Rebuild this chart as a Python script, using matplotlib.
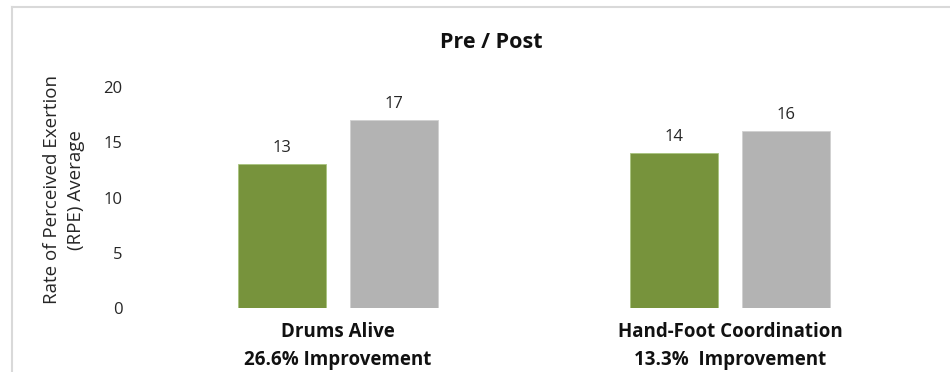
import matplotlib
matplotlib.use("Agg")
import matplotlib.pyplot as plt
import numpy as np
from matplotlib.lines import Line2D

categories = ["Drums Alive\n26.6% Improvement", "Hand-Foot Coordination\n13.3%  Improvement"]
pre_values = [13, 14]
post_values = [17, 16]
yticks = [0, 5, 10, 15, 20]

W, H = 950, 372
fig = plt.figure(figsize=(W / 100, H / 100), dpi=100)
plt.rcParams['font.family'] = ['Open Sans', 'DejaVu Sans']

# axes in pixel coordinates
ax_left, ax_right = 142, 926
ax_bottom, ax_top = 308, 87
ax = fig.add_axes([ax_left / W, 1 - ax_bottom / H, (ax_right - ax_left) / W, (ax_bottom - ax_top) / H])

x = np.arange(len(categories))
off = 0.143
width = 0.224
green = "#77933C"
grey = "#B3B3B3"
b1 = ax.bar(x - off, pre_values, width, color=green, edgecolor="#A9C47F", linewidth=0.6)
b2 = ax.bar(x + off, post_values, width, color=grey, edgecolor="#D0D0D0", linewidth=0.6)
for bars, vals in ((b1, pre_values), (b2, post_values)):
    for r, v in zip(bars, vals):
        ax.text(r.get_x() + r.get_width() / 2, v + 0.75, f"{v}", ha="center", va="bottom",
                fontsize=12, color="#262626")

ax.set_xlim(-0.5, 1.5)
ax.set_ylim(0, 20)
ax.set_yticks(yticks)
ax.set_yticklabels([str(t) for t in yticks], fontsize=12, color="#262626")
ax.tick_params(axis="y", length=0, pad=14)
ax.set_xticks(x)
ax.set_xticklabels(categories, fontsize=13.5, fontweight="bold", color="#111111", linespacing=1.55)
ax.tick_params(axis="x", length=0, pad=10)
for s in ax.spines.values():
    s.set_visible(False)

fig.text(64 / W, 1 - 190 / H, "Rate of Perceived Exertion\n(RPE) Average", rotation=90,
         ha="center", va="center", multialignment="center", fontsize=13.5, color="#262626",
         linespacing=1.45)

fig.text(491 / W, 1 - 42 / H, "Pre / Post", ha="center", va="center", fontsize=15.5,
         fontweight="bold", color="#111111")

# chart border (top and left visible)
border = "#D9D9D9"
fig.add_artist(Line2D([11.5 / W, 11.5 / W], [0, 1 - 6.5 / H], transform=fig.transFigure, color=border, lw=1.5))
fig.add_artist(Line2D([11.5 / W, 1], [1 - 6.5 / H, 1 - 6.5 / H], transform=fig.transFigure, color=border, lw=1.5))

fig.savefig("out.png", dpi=100)
